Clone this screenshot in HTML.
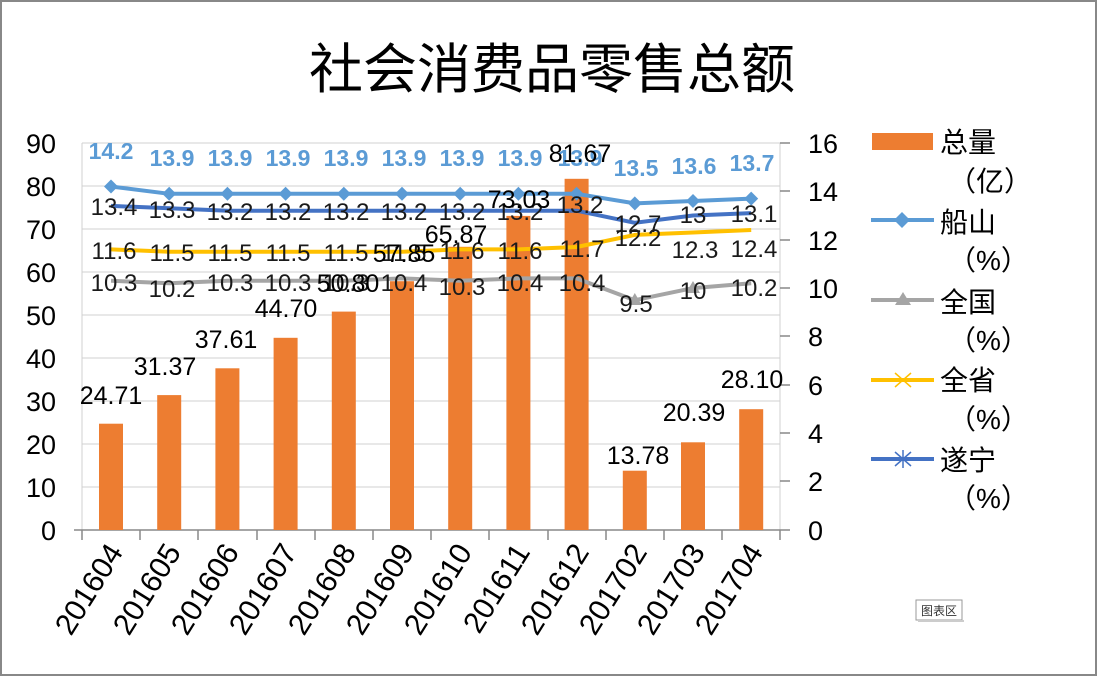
<!DOCTYPE html>
<html><head><meta charset="utf-8"><style>
html,body{margin:0;padding:0;background:#fff}
svg{display:block}
text{font-family:"Liberation Sans","Noto Sans CJK SC",sans-serif}
</style></head><body>
<svg width="1097" height="676" viewBox="0 0 1097 676" xmlns="http://www.w3.org/2000/svg">
<rect x="1" y="1" width="1095" height="674" fill="#fff" stroke="#888" stroke-width="2"/>
<text x="552" y="88" font-size="54" text-anchor="middle" font-family="Noto Serif CJK SC, serif">社会消费品零售总额</text>
<g stroke="#d0d0d0" stroke-width="1">
<line x1="82" y1="143" x2="780" y2="143"/><line x1="82" y1="186" x2="780" y2="186"/>
<line x1="82" y1="229" x2="780" y2="229"/><line x1="82" y1="272" x2="780" y2="272"/>
<line x1="82" y1="315" x2="780" y2="315"/><line x1="82" y1="358" x2="780" y2="358"/>
<line x1="82" y1="401" x2="780" y2="401"/><line x1="82" y1="444" x2="780" y2="444"/>
<line x1="82" y1="487" x2="780" y2="487"/>
<line x1="82" y1="143" x2="82" y2="530"/><line x1="780" y1="143" x2="780" y2="530"/>
</g>
<g stroke="#888" stroke-width="1.5">
<line x1="74" y1="530" x2="790" y2="530"/>
<line x1="780" y1="143" x2="790" y2="143"/><line x1="780" y1="191" x2="790" y2="191"/><line x1="780" y1="240" x2="790" y2="240"/><line x1="780" y1="288" x2="790" y2="288"/><line x1="780" y1="336" x2="790" y2="336"/><line x1="780" y1="385" x2="790" y2="385"/><line x1="780" y1="433" x2="790" y2="433"/><line x1="780" y1="481" x2="790" y2="481"/>
<line x1="82" y1="530" x2="82" y2="540"/><line x1="140" y1="530" x2="140" y2="540"/><line x1="198" y1="530" x2="198" y2="540"/><line x1="257" y1="530" x2="257" y2="540"/><line x1="315" y1="530" x2="315" y2="540"/><line x1="373" y1="530" x2="373" y2="540"/><line x1="431" y1="530" x2="431" y2="540"/><line x1="489" y1="530" x2="489" y2="540"/><line x1="548" y1="530" x2="548" y2="540"/><line x1="606" y1="530" x2="606" y2="540"/><line x1="664" y1="530" x2="664" y2="540"/><line x1="722" y1="530" x2="722" y2="540"/><line x1="780" y1="530" x2="780" y2="540"/>
</g>
<g font-size="27" text-anchor="end" fill="#000">
<text x="56" y="153">90</text><text x="56" y="196">80</text><text x="56" y="239">70</text><text x="56" y="282">60</text><text x="56" y="325">50</text><text x="56" y="368">40</text><text x="56" y="411">30</text><text x="56" y="454">20</text><text x="56" y="497">10</text><text x="56" y="540">0</text>
</g>
<g font-size="27" fill="#000">
<text x="808" y="153">16</text><text x="808" y="201">14</text><text x="808" y="250">12</text><text x="808" y="298">10</text><text x="808" y="346">8</text><text x="808" y="395">6</text><text x="808" y="443">4</text><text x="808" y="491">2</text><text x="808" y="540">0</text>
</g>
<g fill="#ED7D31">
<rect x="99" y="423.7" width="24" height="106.3"/><rect x="157.2" y="395.1" width="24" height="134.9"/><rect x="215.4" y="368.3" width="24" height="161.7"/><rect x="273.6" y="337.8" width="24" height="192.2"/><rect x="331.8" y="311.6" width="24" height="218.4"/><rect x="390" y="281.2" width="24" height="248.8"/><rect x="448.2" y="246.8" width="24" height="283.2"/><rect x="506.4" y="215.9" width="24" height="314.1"/><rect x="564.6" y="178.8" width="24" height="351.2"/><rect x="622.8" y="470.7" width="24" height="59.3"/><rect x="681" y="442.3" width="24" height="87.7"/><rect x="739.2" y="409.2" width="24" height="120.8"/>
</g>
<g fill="none" stroke-width="4" stroke-linejoin="round">
<polyline stroke="#A5A5A5" points="111,280.8 169.2,283.3 227.4,280.8 285.6,280.8 343.8,280.8 402,278.4 460.2,280.8 518.4,278.4 576.6,278.4 634.8,300.2 693,288.1 751.2,283.3"/>
<polyline stroke="#FFC000" points="111,249.4 169.2,251.8 227.4,251.8 285.6,251.8 343.8,251.8 402,251.8 460.2,249.4 518.4,249.4 576.6,247 634.8,234.9 693,232.5 751.2,230"/>
<polyline stroke="#5B9BD5" points="111,186.5 169.2,193.8 227.4,193.8 285.6,193.8 343.8,193.8 402,193.8 460.2,193.8 518.4,193.8 576.6,193.8 634.8,203.4 693,201 751.2,198.6"/>
<polyline stroke="#4472C4" points="111,205.9 169.2,208.3 227.4,210.7 285.6,210.7 343.8,210.7 402,210.7 460.2,210.7 518.4,210.7 576.6,210.7 634.8,222.8 693,215.5 751.2,213.1"/>
</g>
<g fill="#5B9BD5">
<path d="M111,179.5l7,7l-7,7l-7,-7z"/><path d="M169.2,186.8l7,7l-7,7l-7,-7z"/><path d="M227.4,186.8l7,7l-7,7l-7,-7z"/><path d="M285.6,186.8l7,7l-7,7l-7,-7z"/><path d="M343.8,186.8l7,7l-7,7l-7,-7z"/><path d="M402,186.8l7,7l-7,7l-7,-7z"/><path d="M460.2,186.8l7,7l-7,7l-7,-7z"/><path d="M518.4,186.8l7,7l-7,7l-7,-7z"/><path d="M576.6,186.8l7,7l-7,7l-7,-7z"/><path d="M634.8,196.4l7,7l-7,7l-7,-7z"/><path d="M693,194l7,7l-7,7l-7,-7z"/><path d="M751.2,191.6l7,7l-7,7l-7,-7z"/>
</g>
<g fill="#A5A5A5"><path d="M634.8,293l7,12h-14z"/><path d="M693,281l7,12h-14z"/></g>
<g font-size="23" font-weight="bold" fill="#5B9BD5" text-anchor="middle">
<text x="111" y="159">14.2</text><text x="172" y="166">13.9</text><text x="230" y="166">13.9</text><text x="288" y="166">13.9</text><text x="346" y="166">13.9</text><text x="404" y="166">13.9</text><text x="462" y="166">13.9</text><text x="520" y="166">13.9</text><text x="580" y="166">13.9</text><text x="636" y="176">13.5</text><text x="694" y="174">13.6</text><text x="752" y="171">13.7</text>
</g>
<g font-size="24" fill="#1a1a1a" text-anchor="middle">
<text x="114" y="215">13.4</text><text x="172" y="218">13.3</text><text x="230" y="220">13.2</text><text x="288" y="220">13.2</text><text x="346" y="220">13.2</text><text x="404" y="220">13.2</text><text x="462" y="220">13.2</text><text x="520" y="220">13.2</text><text x="580" y="213">13.2</text><text x="638" y="232">12.7</text><text x="693" y="223">13</text><text x="754" y="222">13.1</text>
<text x="114" y="259">11.6</text><text x="172" y="261">11.5</text><text x="230" y="261">11.5</text><text x="288" y="261">11.5</text><text x="346" y="261">11.5</text><text x="404" y="261">11.5</text><text x="462" y="259">11.6</text><text x="520" y="259">11.6</text><text x="582" y="257">11.7</text><text x="638" y="246">12.2</text><text x="695" y="258">12.3</text><text x="754" y="257">12.4</text>
<text x="114" y="291">10.3</text><text x="172" y="297">10.2</text><text x="230" y="291">10.3</text><text x="288" y="291">10.3</text><text x="346" y="291">10.3</text><text x="404" y="291">10.4</text><text x="462" y="295">10.3</text><text x="520" y="291">10.4</text><text x="582" y="291">10.4</text><text x="636" y="312">9.5</text><text x="693" y="299">10</text><text x="754" y="296">10.2</text>
</g>
<g font-size="25" fill="#000" text-anchor="middle">
<text x="111" y="404">24.71</text><text x="165" y="375">31.37</text><text x="226" y="348">37.61</text><text x="286" y="317">44.70</text><text x="348" y="292">50.80</text><text x="404" y="262">57.85</text><text x="456" y="243">65.87</text><text x="519" y="208">73.03</text><text x="580" y="162">81.67</text><text x="638" y="464">13.78</text><text x="694" y="421">20.39</text><text x="752" y="388">28.10</text>
</g>
<g font-size="30" fill="#000" text-anchor="end">
<text transform="translate(124,552) rotate(-58)">201604</text>
<text transform="translate(182,552) rotate(-58)">201605</text>
<text transform="translate(240,552) rotate(-58)">201606</text>
<text transform="translate(298,552) rotate(-58)">201607</text>
<text transform="translate(357,552) rotate(-58)">201608</text>
<text transform="translate(415,552) rotate(-58)">201609</text>
<text transform="translate(473,552) rotate(-58)">201610</text>
<text transform="translate(531,552) rotate(-58)">201611</text>
<text transform="translate(590,552) rotate(-58)">201612</text>
<text transform="translate(648,552) rotate(-58)">201702</text>
<text transform="translate(706,552) rotate(-58)">201703</text>
<text transform="translate(764,552) rotate(-58)">201704</text>
</g>
<rect x="872" y="133" width="61" height="17" fill="#ED7D31"/>
<line x1="871" y1="220" x2="934" y2="220" stroke="#5B9BD5" stroke-width="4"/><path d="M902,212l8,8l-8,8l-8,-8z" fill="#5B9BD5"/>
<line x1="871" y1="300" x2="934" y2="300" stroke="#A5A5A5" stroke-width="4"/><path d="M903,292l8,13h-16z" fill="#A5A5A5"/>
<line x1="871" y1="380" x2="934" y2="380" stroke="#FFC000" stroke-width="4"/><path d="M895,373l16,14M911,373l-16,14" stroke="#FFC000" stroke-width="1.5"/>
<line x1="871" y1="459" x2="934" y2="459" stroke="#4472C4" stroke-width="4"/><path d="M895,452l16,14M911,452l-16,14M903,450v18" stroke="#4472C4" stroke-width="1.5"/>
<g font-size="28" fill="#000" font-family="Noto Serif CJK SC, serif">
<text x="940" y="152">总量</text><text x="948" y="191">（亿）</text>
<text x="940" y="232">船山</text><text x="948" y="270">（%）</text>
<text x="940" y="312">全国</text><text x="948" y="350">（%）</text>
<text x="940" y="390">全省</text><text x="948" y="429">（%）</text>
<text x="940" y="470">遂宁</text><text x="948" y="508">（%）</text>
</g>
<rect x="916" y="600" width="46" height="20" fill="#fff" stroke="#999" stroke-width="1"/>
<line x1="918" y1="621" x2="964" y2="621" stroke="#ccc" stroke-width="2"/>
<text x="939" y="615" font-size="12" text-anchor="middle" fill="#333">图表区</text>
</svg>
</body></html>
